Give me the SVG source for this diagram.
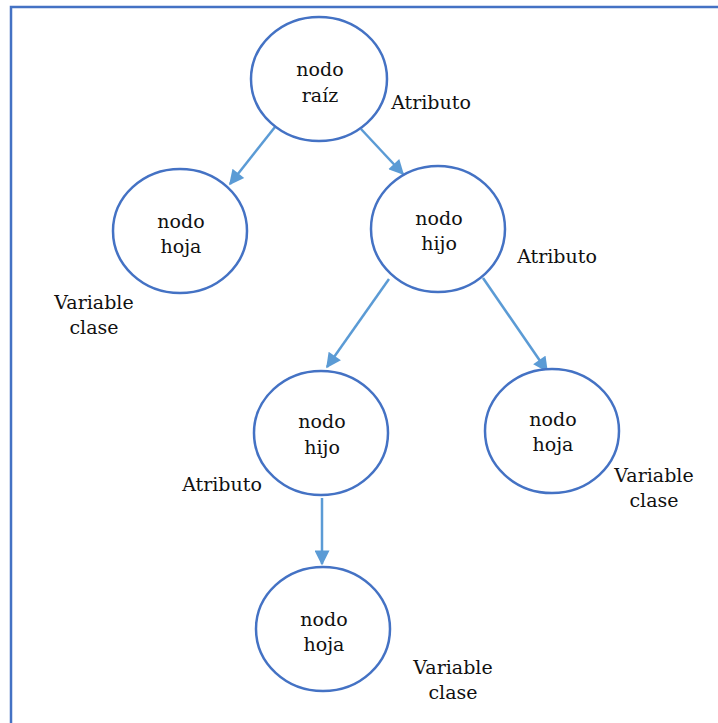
<svg xmlns="http://www.w3.org/2000/svg" width="718" height="723" viewBox="0 0 718 723">
  <style>
    .node { fill: #ffffff; stroke: #4472C4; stroke-width: 2.5; }
    .lbl { font-family: "DejaVu Serif", "Liberation Serif", serif; font-size: 19px; fill: #111111; text-anchor: middle; }
    .edge { stroke: #5B9BD5; stroke-width: 2.5; fill: none; marker-end: url(#head); }
  </style>
  <defs>
    <marker id="head" viewBox="0 0 10 10" refX="9" refY="5" markerWidth="6.5" markerHeight="6" orient="auto" markerUnits="strokeWidth">
      <path d="M0,0 L10,5 L0,10 Z" fill="#5B9BD5"/>
    </marker>
  </defs>

  <!-- frame -->
  <path d="M11,723 L11,7 L718,7" fill="none" stroke="#4472C4" stroke-width="2.5"/>

  <g id="connectors">
    <line class="edge" x1="275" y1="127" x2="230" y2="184"/>
    <line class="edge" x1="361" y1="129" x2="403" y2="174"/>
    <line class="edge" x1="389" y1="279" x2="327" y2="367"/>
    <line class="edge" x1="483" y1="278" x2="547" y2="371"/>
    <line class="edge" x1="322" y1="498" x2="322" y2="564"/>
  </g>

  <g id="root">
    <ellipse class="node" cx="319" cy="79" rx="68" ry="62"/>
    <text class="lbl" x="320" y="76">nodo</text>
    <text class="lbl" x="320" y="102">raíz</text>
    <text class="lbl" x="431" y="109">Atributo</text>
  </g>

  <g id="leaf-left">
    <ellipse class="node" cx="180" cy="231" rx="67" ry="62"/>
    <text class="lbl" x="181" y="228">nodo</text>
    <text class="lbl" x="181" y="253">hoja</text>
    <text class="lbl" x="94" y="309">Variable</text>
    <text class="lbl" x="94" y="334">clase</text>
  </g>

  <g id="child-top">
    <ellipse class="node" cx="438" cy="229" rx="67" ry="63"/>
    <text class="lbl" x="439" y="225">nodo</text>
    <text class="lbl" x="439" y="250">hijo</text>
    <text class="lbl" x="557" y="263">Atributo</text>
  </g>

  <g id="child-mid">
    <ellipse class="node" cx="321" cy="433" rx="67" ry="62"/>
    <text class="lbl" x="322" y="428">nodo</text>
    <text class="lbl" x="322" y="454">hijo</text>
    <text class="lbl" x="222" y="491">Atributo</text>
  </g>

  <g id="leaf-right">
    <ellipse class="node" cx="552" cy="431" rx="67" ry="62"/>
    <text class="lbl" x="553" y="426">nodo</text>
    <text class="lbl" x="553" y="451">hoja</text>
    <text class="lbl" x="654" y="482">Variable</text>
    <text class="lbl" x="654" y="507">clase</text>
  </g>

  <g id="leaf-bottom">
    <ellipse class="node" cx="323" cy="629" rx="67" ry="62"/>
    <text class="lbl" x="324" y="626">nodo</text>
    <text class="lbl" x="324" y="651">hoja</text>
    <text class="lbl" x="453" y="674">Variable</text>
    <text class="lbl" x="453" y="699">clase</text>
  </g>
</svg>
